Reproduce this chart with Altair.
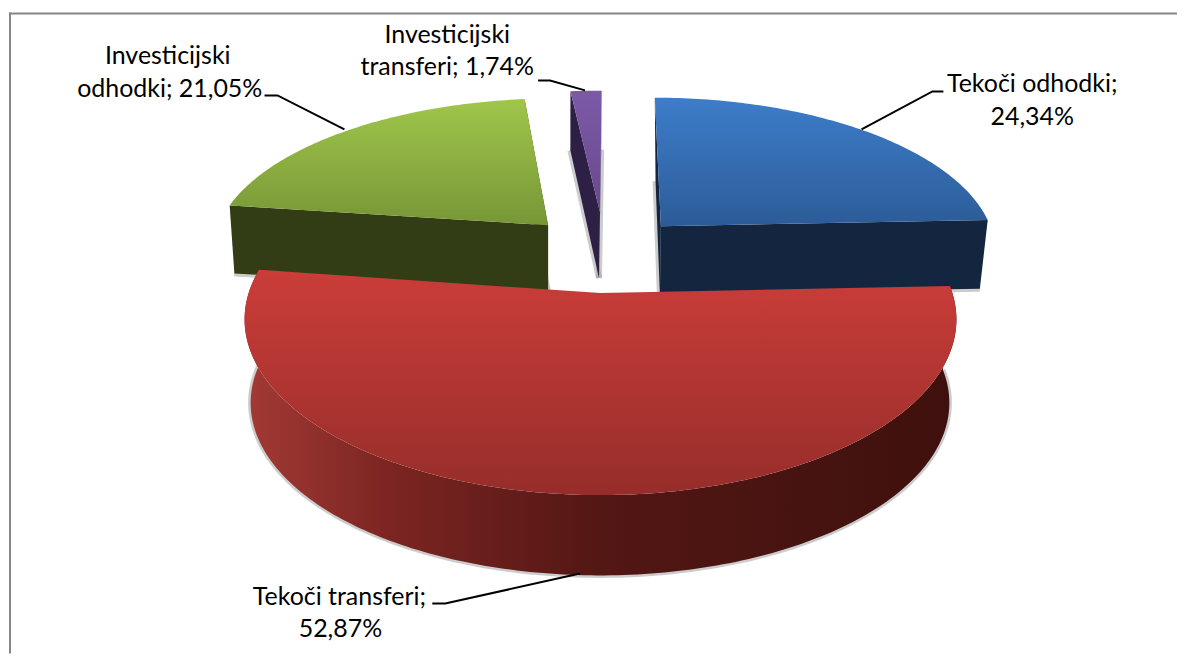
import math
import altair as alt
import pandas as pd

# ---- values ----
categories = ["Tekoči odhodki", "Tekoči transferi", "Investicijski odhodki", "Investicijski transferi"]
shares = [24.34, 52.87, 21.05, 1.74]
label_lines = [
    ["Tekoči odhodki;", "24,34%"],
    ["Tekoči transferi;", "52,87%"],
    ["Investicijski", "odhodki; 21,05%"],
    ["Investicijski", "transferi; 1,74%"],
]

# ---- styling / layout ----
K = 0.15
planes = {  # exploded slice: top plane, bottom plane (cx, cy, a, b, shear)
    "Tekoči odhodki": ((661, 226, 330, 148, -7), (660, 294, 323, 130, -5)),
    "Tekoči transferi": ((600.5, 293, 352.5, 172, 0), (600, 377, 346, 169, 0)),
    "Investicijski odhodki": ((548, 225, 330, 146, 9), (548, 291, 325, 130, 8)),
    "Investicijski transferi": ((600, 212, 330, 140, 2), (599, 278, 325, 148, 2.5)),
}
top_fill = {
    "Tekoči odhodki": ("#3d7dca", "#2c5c98"),
    "Tekoči transferi": ("#cb3d39", "#962d2a"),
    "Investicijski odhodki": ("#a0c64b", "#779636"),
    "Investicijski transferi": ("#7d5aa8", "#67488c"),
}
wall_fill = {
    "Tekoči odhodki": "#14263f",
    "Investicijski odhodki": "#323d16",
    "Investicijski transferi": "#2e2044",
}
label_pos = {
    "Tekoči odhodki": [(1033, 84), (1033, 117)],
    "Tekoči transferi": [(339, 597), (340, 630)],
    "Investicijski odhodki": [(167, 56), (169, 89)],
    "Investicijski transferi": [(447, 35), (447, 67)],
}
leaders = {
    "Tekoči odhodki": [(944, 91), (933, 91), (862, 129)],
    "Tekoči transferi": [(432, 604), (445, 604), (580, 574)],
    "Investicijski odhodki": [(264, 95), (277, 95), (344, 129)],
    "Investicijski transferi": [(538, 80), (550, 80), (585, 90)],
}
FONT = "Lato"
FONT_SIZE = 25

X = alt.X("x:Q", scale=alt.Scale(domain=[8, 1178], nice=False, zero=False), axis=None)
Y = alt.Y("y:Q", scale=alt.Scale(domain=[654, 8], nice=False, zero=False), axis=None)


def project(plane, theta):
    cx, cy, a, b, s = plane
    sx, sy = math.sin(theta), math.cos(theta)
    w = 1 + K * sy
    return cx + (a * sx + s * sy) / w, cy - b * sy / w


def rim(plane, t0, t1):
    n = max(3, int((t1 - t0) * 60))
    return [project(plane, t0 + (t1 - t0) * i / n) for i in range(n + 1)]


def frame_of(points):
    return pd.DataFrame({"x": [p[0] for p in points], "y": [p[1] for p in points], "i": range(len(points))})


def poly(points, fill):
    return alt.Chart(frame_of(points)).mark_line(fill=fill, strokeWidth=0).encode(
        x=X, y=Y, order=alt.Order("i:Q")
    )


def shade(points, width):
    return alt.Chart(frame_of(points)).mark_line(stroke="#999999", strokeWidth=width, opacity=0.5).encode(
        x=X, y=Y, order=alt.Order("i:Q")
    )


def vgrad(c0, c1):
    return alt.Gradient(gradient="linear", x1=0, x2=0, y1=0, y2=1,
                        stops=[alt.GradientStop(color=c0, offset=0), alt.GradientStop(color=c1, offset=1)])


total = sum(shares)
spans = {}
acc = 0.0
for c, v in zip(categories, shares):
    spans[c] = (acc / total * 2 * math.pi, (acc + v) / total * 2 * math.pi)
    acc += v

shadow_layers, wall_layers, top_layers = [], [], []
for c in categories:
    t0, t1 = spans[c]
    top, low = planes[c]
    apex_t, apex_l = (top[0], top[1]), (low[0], low[1])
    if c == "Tekoči transferi":
        continue
    for t in (t0, t1):
        shadow_layers.append(shade([apex_l, project(low, t)], 6))
        wall_layers.append(poly([apex_t, project(top, t), project(low, t), apex_l], wall_fill[c]))
    top_layers.append(poly([apex_t] + rim(top, t0, t1), vgrad(*top_fill[c])))

# the big front slice, drawn last
c = "Tekoči transferi"
t0, t1 = spans[c]
top, low = planes[c]
side_pts = rim(top, t0, t1) + rim(low, t0, t1)[::-1]
side_fill = alt.Gradient(gradient="linear", x1=0, x2=1, y1=0, y2=0, stops=[
    alt.GradientStop(color="#a33a35", offset=0),
    alt.GradientStop(color="#7c2522", offset=0.2),
    alt.GradientStop(color="#531714", offset=0.5),
    alt.GradientStop(color="#461310", offset=0.8),
    alt.GradientStop(color="#3f100d", offset=1),
])
red_shadow = shade(rim(low, t0, t1), 5)
red_side = poly(side_pts, side_fill)
red_top = poly([(top[0], top[1])] + rim(top, t0, t1), vgrad(*top_fill[c]))

# labels and leaders
lab_rows = []
for c, lines in zip(categories, label_lines):
    for line, (lx, ly) in zip(lines, label_pos[c]):
        lab_rows.append({"x": lx, "y": ly, "t": line})
labels = alt.Chart(pd.DataFrame(lab_rows)).mark_text(
    font=FONT, fontSize=FONT_SIZE, color="#000000", align="center", baseline="middle"
).encode(x=X, y=Y, text="t:N")

lead_rows = []
for c in categories:
    for i, (lx, ly) in enumerate(leaders[c]):
        lead_rows.append({"x": lx, "y": ly, "c": c, "i": i})
lead = alt.Chart(pd.DataFrame(lead_rows)).mark_line(color="#000000", strokeWidth=2).encode(
    x=X, y=Y, detail="c:N", order=alt.Order("i:Q")
)

frame_top = alt.Chart(pd.DataFrame({"a": [0]})).mark_rule(color="#868686", strokeWidth=2).encode(
    x=alt.value(0), x2=alt.value(1170), y=alt.value(5)
)
frame_left = alt.Chart(pd.DataFrame({"a": [0]})).mark_rule(color="#868686", strokeWidth=2).encode(
    x=alt.value(1), y=alt.value(4), y2=alt.value(646)
)

chart = alt.layer(
    frame_top, frame_left, *shadow_layers, red_shadow, *wall_layers, *top_layers,
    red_side, red_top, lead, labels
).properties(width=1170, height=646, padding=0, background="#ffffff").configure_view(stroke=None)

chart.save("out.html", embed_options={"renderer": "svg", "actions": False})
